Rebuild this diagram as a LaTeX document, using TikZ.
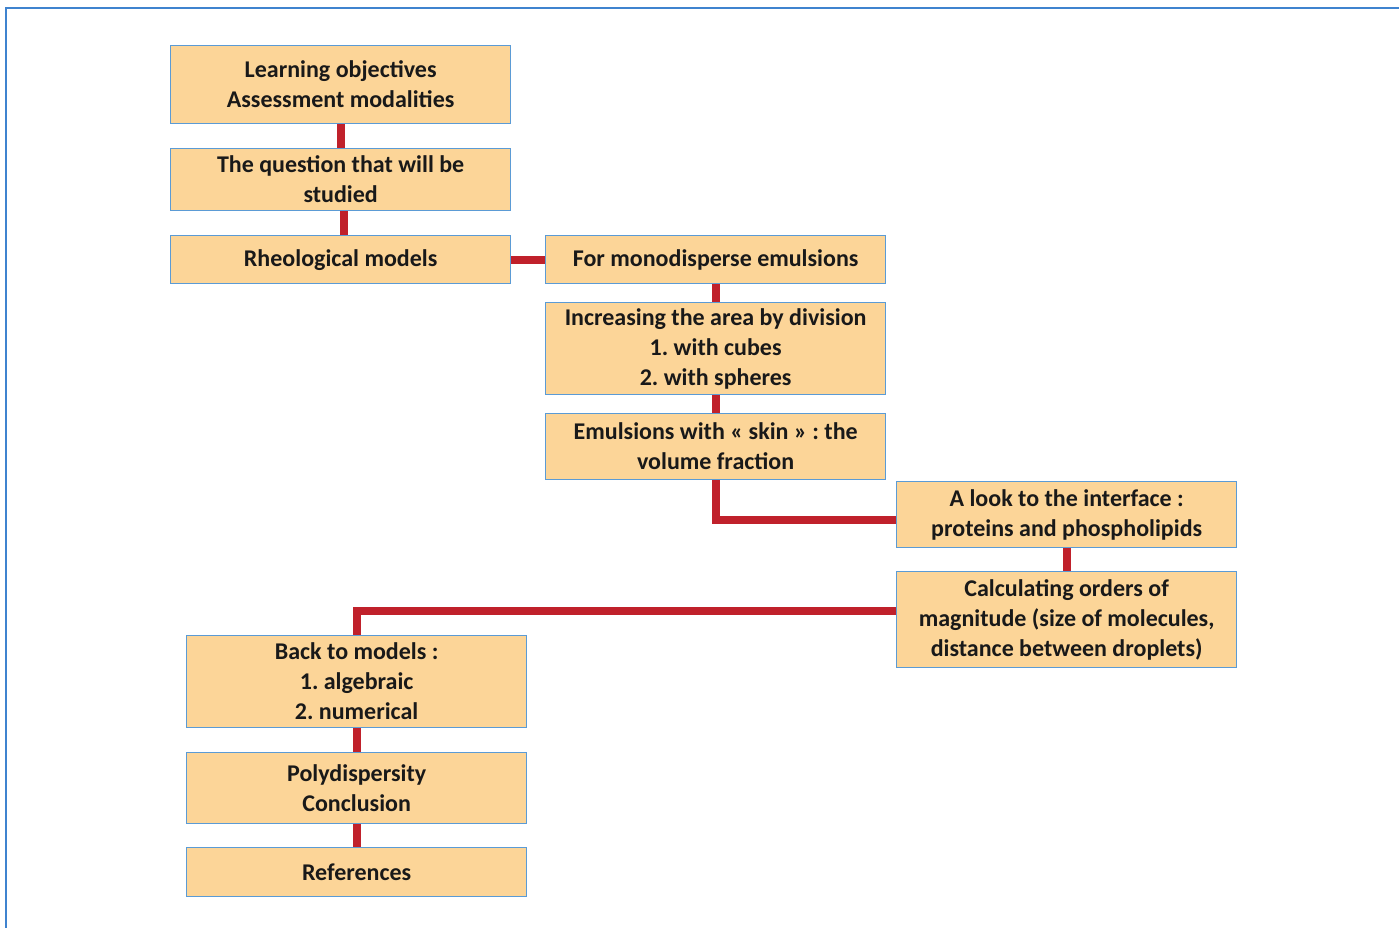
\documentclass[tikz,border=0pt]{standalone}
\usepackage{fontspec}
\setmainfont{Carlito}
\frenchspacing
\begin{document}
\begin{tikzpicture}[x=1pt,y=-1pt,
  stepbox/.style={draw=boxblue, line width=1.3pt, fill=boxfill, rectangle,
    minimum width=340pt, inner sep=0pt, anchor=north west, align=center,
    font=\bfseries\fontsize{24}{30}\selectfont, text=black!90},
  link/.style={draw=linkred, line width=8pt}]
\definecolor{boxfill}{HTML}{FCD598}
\definecolor{boxblue}{HTML}{5B9BD5}
\definecolor{linkred}{HTML}{C0212B}
\definecolor{frameblue}{HTML}{3F83CF}
\useasboundingbox (0,0) rectangle (1399,928);
% outer frame (continues past the right and bottom edges)
\draw[frameblue, line width=2pt] (6,950) -- (6,8) -- (1420,8);

% boxes
\node[stepbox, minimum height=78pt] (A) at (170,45) {Learning objectives\\Assessment modalities};
\node[stepbox, minimum height=62pt] (B) at (170,148) {The question that will be\\studied};
\node[stepbox, minimum height=48pt] (C) at (170,235) {Rheological models};
\node[stepbox, minimum height=48pt] (D) at (545,235) {For monodisperse emulsions};
\node[stepbox, minimum height=92pt] (E) at (545,302) {Increasing the area by division\\1. with cubes\\2. with spheres};
\node[stepbox, minimum height=66pt] (F) at (545,413) {Emulsions with « skin » : the\\volume fraction};
\node[stepbox, minimum height=66pt] (G) at (896,481) {A look to the interface :\\proteins and phospholipids};
\node[stepbox, minimum height=96pt] (H) at (896,571) {Calculating orders of\\magnitude (size of molecules,\\distance between droplets)};
\node[stepbox, minimum height=92pt] (I) at (186,635) {Back to models :\\1. algebraic\\2. numerical};
\node[stepbox, minimum height=71pt] (J) at (186,752) {Polydispersity\\Conclusion};
\node[stepbox, minimum height=49pt] (K) at (186,847) {References};

% connectors
\draw[link] (A.south) -- (B.north);
\draw[link] ([xshift=3pt]B.south) -- ([xshift=3pt]C.north);
\draw[link] (C.east) -- (D.west);
\draw[link] (D.south) -- (E.north);
\draw[link] (E.south) -- (F.north);
\draw[link] (F.south) |- ([yshift=-5pt]G.west);
\draw[link] (G.south) -- (H.north);
\draw[link] ([yshift=9pt]H.west) -| (I.north);
\draw[link] (I.south) -- (J.north);
\draw[link] (J.south) -- (K.north);
\end{tikzpicture}
\end{document}
